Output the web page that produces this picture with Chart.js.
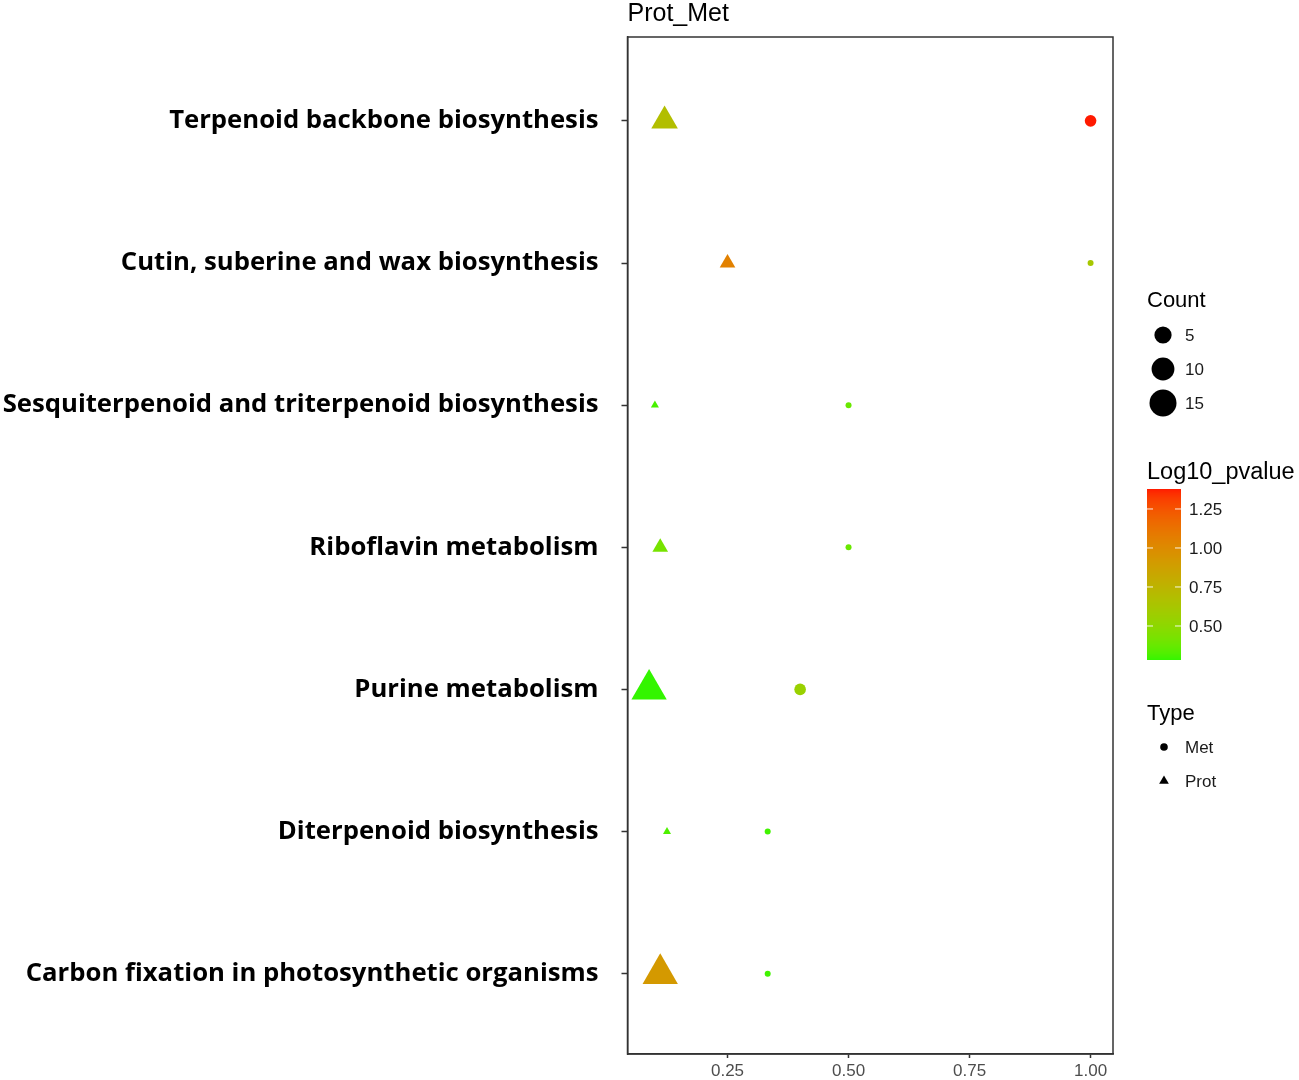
<!DOCTYPE html>
<html lang="en">
<head>
    <meta charset="UTF-8">
    <title>Prot_Met</title>
    <script src="https://cdn.jsdelivr.net/npm/chart.js"></script>
    <style>
        html, body {
            margin: 0;
            padding: 0;
            background: #fff;
            overflow: hidden;
        }
        canvas {
            display: block;
        }
    </style>
</head>
<body>
<canvas id="dotChart" width="1299" height="1080"></canvas>
<script>
// pathways, top to bottom
const pathways = [
    'Terpenoid backbone biosynthesis',
    'Cutin, suberine and wax biosynthesis',
    'Sesquiterpenoid and triterpenoid biosynthesis',
    'Riboflavin metabolism',
    'Purine metabolism',
    'Diterpenoid biosynthesis',
    'Carbon fixation in photosynthetic organisms'
];

// Prot (triangles)
const protRatio = [0.12, 0.25, 0.10, 0.111, 0.088, 0.125, 0.111];
const protCount = [7, 2, 1, 2, 14, 1, 14];
const protLogP  = [0.68, 1.05, 0.31, 0.42, 0.282, 0.32, 0.92];

// Met (circles)
const metRatio = [1.0, 1.0, 0.5, 0.5, 0.4, 0.333, 0.333];
const metCount = [2, 1, 1, 1, 2, 1, 1];
const metLogP  = [1.378, 0.62, 0.38, 0.38, 0.55, 0.30, 0.30];

const xTicks = [0.25, 0.5, 0.75, 1.0];
const countBreaks = [5, 10, 15];
const pvalBreaks = [0.5, 0.75, 1.0, 1.25];

const allP = protLogP.concat(metLogP);
const pMin = Math.min(...allP);
const pMax = Math.max(...allP);

// colour scale: green -> red, interpolated in Lab like ggplot
function hexToRgb(h) {
    return [1, 3, 5].map(i => parseInt(h.substr(i, 2), 16));
}
function rgbToLab(rgb) {
    let [r, g, b] = rgb.map(v => {
        v /= 255;
        return v > 0.04045 ? Math.pow((v + 0.055) / 1.055, 2.4) : v / 12.92;
    });
    let x = (r * 0.4124 + g * 0.3576 + b * 0.1805) / 0.95047;
    let y = (r * 0.2126 + g * 0.7152 + b * 0.0722);
    let z = (r * 0.0193 + g * 0.1192 + b * 0.9505) / 1.08883;
    const f = t => t > 0.008856 ? Math.cbrt(t) : 7.787 * t + 16 / 116;
    x = f(x); y = f(y); z = f(z);
    return [116 * y - 16, 500 * (x - y), 200 * (y - z)];
}
function labToRgb(lab) {
    let y = (lab[0] + 16) / 116, x = lab[1] / 500 + y, z = y - lab[2] / 200;
    const fi = t => t * t * t > 0.008856 ? t * t * t : (t - 16 / 116) / 7.787;
    x = fi(x) * 0.95047; y = fi(y); z = fi(z) * 1.08883;
    let r = x * 3.2406 + y * -1.5372 + z * -0.4986;
    let g = x * -0.9689 + y * 1.8758 + z * 0.0415;
    let b = x * 0.0557 + y * -0.2040 + z * 1.0570;
    return [r, g, b].map(v => {
        v = v > 0.0031308 ? 1.055 * Math.pow(v, 1 / 2.4) - 0.055 : 12.92 * v;
        return Math.round(Math.max(0, Math.min(1, v)) * 255);
    });
}
const labLow = rgbToLab(hexToRgb('#33f500'));
const labHigh = rgbToLab(hexToRgb('#ff1a00'));
function colorFor(p) {
    const t = Math.max(0, Math.min(1, (p - pMin) / (pMax - pMin)));
    const lab = labLow.map((v, i) => v + (labHigh[i] - v) * t);
    const c = labToRgb(lab);
    return `rgb(${c[0]},${c[1]},${c[2]})`;
}

// size scale: diameter in px from count (area scale)
function diamFor(c) {
    return 6 + 21 * Math.sqrt(Math.max(0, (c - 1) / 14));
}

const metPoints = pathways.map((p, i) => ({ x: metRatio[i], y: i, count: metCount[i], p: metLogP[i] }));
const protPoints = pathways.map((p, i) => ({ x: protRatio[i], y: i, count: protCount[i], p: protLogP[i] }));

const txtFont = '"Liberation Sans", Arial, sans-serif';

// frame, title and the three legends
const extras = {
    id: 'extras',
    afterDraw(chart) {
        const ctx = chart.ctx;
        const a = chart.chartArea;
        ctx.save();
        ctx.strokeStyle = '#333';
        ctx.lineWidth = 1.5;
        ctx.strokeRect(a.left, a.top, a.right - a.left, a.bottom - a.top);

        ctx.fillStyle = '#000';
        ctx.font = '25px ' + txtFont;
        ctx.textAlign = 'left';
        ctx.textBaseline = 'alphabetic';
        ctx.fillText('Prot_Met', a.left, 21);

        const lx = 1147;
        // Count
        ctx.font = '22px ' + txtFont;
        ctx.textBaseline = 'middle';
        ctx.fillText('Count', lx, 301);
        countBreaks.forEach((c, i) => {
            const y = 335 + i * 34;
            ctx.beginPath();
            ctx.arc(1163, y, diamFor(c) / 2, 0, Math.PI * 2);
            ctx.fillStyle = '#000';
            ctx.fill();
            ctx.font = '17px ' + txtFont;
            ctx.fillStyle = '#1a1a1a';
            ctx.fillText(String(c), 1185, y + 1);
        });

        // Log10_pvalue colour bar
        ctx.fillStyle = '#000';
        ctx.font = '23.5px ' + txtFont;
        ctx.fillText('Log10_pvalue', lx, 473);
        const bTop = 489, bBot = 660, bL = 1147, bR = 1181;
        for (let y = bTop; y < bBot; y++) {
            const v = pMax - (y - bTop + 0.5) / (bBot - bTop) * (pMax - pMin);
            ctx.fillStyle = colorFor(v);
            ctx.fillRect(bL, y, bR - bL, 1);
        }
        ctx.font = '17px ' + txtFont;
        pvalBreaks.forEach(v => {
            const y = bBot - (v - pMin) / (pMax - pMin) * (bBot - bTop);
            ctx.strokeStyle = 'rgba(255,255,255,0.9)';
            ctx.lineWidth = 1;
            ctx.beginPath();
            ctx.moveTo(bL, y); ctx.lineTo(bL + 6, y);
            ctx.moveTo(bR - 6, y); ctx.lineTo(bR, y);
            ctx.stroke();
            ctx.fillStyle = '#1a1a1a';
            ctx.fillText(v.toFixed(2), 1189, y + 1);
        });

        // Type
        ctx.fillStyle = '#000';
        ctx.font = '22px ' + txtFont;
        ctx.fillText('Type', lx, 714);
        ctx.beginPath();
        ctx.arc(1164, 747, 3.8, 0, Math.PI * 2);
        ctx.fill();
        const tr = 5.6;
        ctx.beginPath();
        ctx.moveTo(1164, 781 - tr);
        ctx.lineTo(1164 + tr * 0.866, 781 + tr / 2);
        ctx.lineTo(1164 - tr * 0.866, 781 + tr / 2);
        ctx.closePath();
        ctx.fill();
        ctx.font = '17px ' + txtFont;
        ctx.fillStyle = '#1a1a1a';
        ctx.fillText('Met', 1185, 748);
        ctx.fillText('Prot', 1185, 782);
        ctx.restore();
    }
};

new Chart(document.getElementById('dotChart').getContext('2d'), {
    type: 'scatter',
    data: {
        datasets: [
            {
                label: 'Met',
                data: metPoints,
                pointStyle: 'circle',
                pointRadius: c => diamFor(c.raw.count) / 2,
                pointHoverRadius: c => diamFor(c.raw.count) / 2,
                backgroundColor: c => colorFor(c.raw.p),
                borderWidth: 0
            },
            {
                label: 'Prot',
                data: protPoints,
                pointStyle: 'triangle',
                pointRadius: c => diamFor(c.raw.count) / 2 * 1.555,
                pointHoverRadius: c => diamFor(c.raw.count) / 2 * 1.555,
                backgroundColor: c => colorFor(c.raw.p),
                borderWidth: 0
            }
        ]
    },
    options: {
        responsive: false,
        devicePixelRatio: 1,
        animation: false,
        clip: false,
        layout: { padding: { top: 37, right: 186, left: 0, bottom: 0 } },
        plugins: {
            legend: { display: false },
            tooltip: { enabled: false }
        },
        scales: {
            x: {
                type: 'linear',
                min: 0.0434,
                max: 1.0463,
                afterBuildTicks: s => { s.ticks = xTicks.map(v => ({ value: v })); },
                afterFit: s => { s.height = 26; },
                ticks: {
                    callback: v => Number(v).toFixed(2),
                    color: '#4d4d4d',
                    font: { family: txtFont, size: 17 },
                    padding: 3,
                    maxRotation: 0
                },
                grid: {
                    drawOnChartArea: false,
                    drawTicks: true,
                    tickLength: 4,
                    tickColor: '#333',
                    tickWidth: 1.5
                },
                border: { display: true, color: '#333', width: 1.5 }
            },
            y: {
                type: 'linear',
                reverse: true,
                min: -0.59,
                max: 6.565,
                afterBuildTicks: s => { s.ticks = pathways.map((p, i) => ({ value: i })); },
                afterFit: s => {
                    s.width = 627.5;
                    s.paddingTop = 0;
                    s.paddingBottom = 0;
                },
                ticks: {
                    callback: v => pathways[v],
                    color: '#000',
                    font: { family: '"Open Sans", "Noto Sans", sans-serif', size: 25.7, weight: 'bold' },
                    padding: 23
                },
                grid: {
                    drawOnChartArea: false,
                    drawTicks: true,
                    tickLength: 6,
                    tickColor: '#333',
                    tickWidth: 1.5
                },
                border: { display: true, color: '#333', width: 1.5 }
            }
        }
    },
    plugins: [extras]
});
</script>
</body>
</html>
